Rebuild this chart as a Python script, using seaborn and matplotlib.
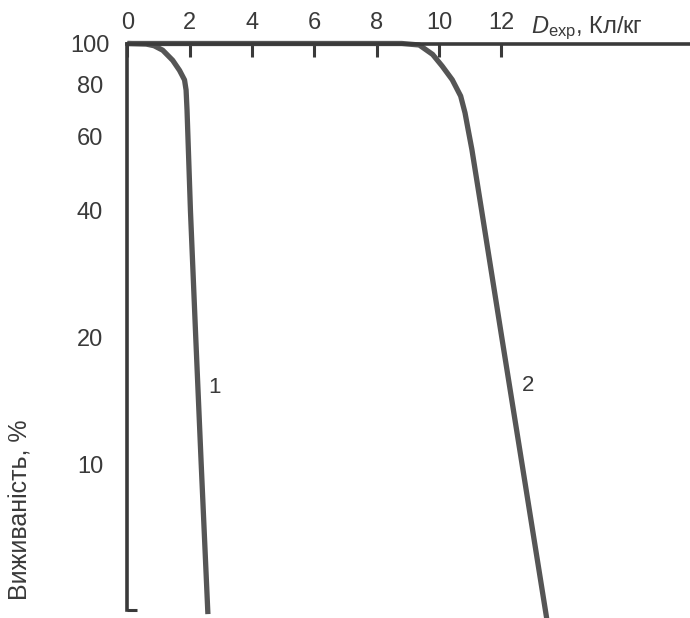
import matplotlib
matplotlib.use("Agg")
import matplotlib.pyplot as plt
import seaborn as sns
import pandas as pd
from matplotlib.ticker import FixedLocator, FixedFormatter, NullLocator

# ---- data ----
dose_1 = [0.0, 0.6, 0.85, 1.13, 1.45, 1.67, 1.83, 1.88, 1.91, 2.02, 2.19, 2.365, 2.58]
surv_1 = [100, 99.7, 98.8, 96.4, 91.2, 86.3, 81.9, 77.5, 69.5, 40, 20, 10, 4.4]
dose_2 = [0.0, 8.8, 9.36, 9.79, 10.1, 10.42, 10.69, 10.83, 10.93, 11.05, 11.365, 12.01, 12.66, 13.45]
surv_2 = [100, 100, 99.2, 94.2, 88.3, 82.0, 75.0, 68.4, 62.4, 56.0, 40, 20, 10, 4.3]
curve_names = ["1", "2"]
ytick_values = [10, 20, 40, 60, 80, 100]
ytick_labels = ["10", "20", "40", "60", "80", "100"]
y_bottom = 4.5
xtick_values = [0, 2, 4, 6, 8, 10, 12]
xtick_labels = ["0", "2", "4", "6", "8", "10", "12"]

df = pd.concat([
    pd.DataFrame({"dose": dose_1, "surv": surv_1, "curve": curve_names[0]}),
    pd.DataFrame({"dose": dose_2, "surv": surv_2, "curve": curve_names[1]}),
])

sns.set_style("white")
plt.rcParams["font.family"] = ["Liberation Sans", "DejaVu Sans"]
plt.rcParams["mathtext.fontset"] = "custom"
plt.rcParams["mathtext.rm"] = "Liberation Sans"
plt.rcParams["mathtext.it"] = "Liberation Sans:italic"

ink = "#3a3a3a"
line_col = "#555555"
fig = plt.figure(figsize=(6.9, 6.18), dpi=100)
top_px, bot_px, left_px = 43.5, 610, 127.5
ax = fig.add_axes([left_px / 690, 1 - bot_px / 618, 1 - left_px / 690 + 0.01,
                   (bot_px - top_px) / 618])

sns.lineplot(data=df, x="dose", y="surv", units="curve", estimator=None,
             sort=False, color=line_col, linewidth=3.8, ax=ax, legend=False)
for ln in ax.get_lines():
    ln.set_solid_joinstyle("round")
    ln.set_solid_capstyle("butt")
    ln.set_clip_on(False)

ax.set_yscale("log")
ax.set_xlim(0, 18.27)
ax.set_ylim(y_bottom, 100)

ax.xaxis.tick_top()
ax.xaxis.set_major_locator(FixedLocator(xtick_values))
ax.xaxis.set_major_formatter(FixedFormatter(xtick_labels))
ax.xaxis.set_minor_locator(NullLocator())
ax.yaxis.set_major_locator(FixedLocator(ytick_values))
ax.yaxis.set_major_formatter(FixedFormatter(ytick_labels))
ax.yaxis.set_minor_locator(NullLocator())

ax.tick_params(axis="both", direction="in", length=9, width=2.2, color=ink,
               labelsize=17, labelcolor=ink)
ax.tick_params(axis="x", pad=7)
ax.tick_params(axis="y", pad=27)
for lab in ax.get_yticklabels():
    lab.set_horizontalalignment("center")

for side in ["left", "top"]:
    ax.spines[side].set_linewidth(2.6)
    ax.spines[side].set_color(ink)
for side in ["right", "bottom"]:
    ax.spines[side].set_visible(False)

# short end tick at the bottom of the survival axis
ax.axhline(y_bottom, xmin=0, xmax=10 / 572, color=ink, linewidth=2.2,
           solid_capstyle="butt", clip_on=False)

ax.set_xlabel("")
ax.set_ylabel("")

ax.text(2.6, 15.2, curve_names[0], fontsize=16, color=ink, va="center", ha="left")
ax.text(12.64, 15.4, curve_names[1], fontsize=16, color=ink, va="center", ha="left")

fig.text(531 / 690, 1 - 33 / 618, r"$D_{\mathrm{exp}}$, Кл/кг", fontsize=17,
         color=ink, ha="left", va="baseline")
fig.text(21 / 690, 1 - 510 / 618, "Виживаність, %", fontsize=18, color=ink,
         rotation=90, ha="center", va="center")

fig.savefig("out.png", dpi=100, facecolor="white")
